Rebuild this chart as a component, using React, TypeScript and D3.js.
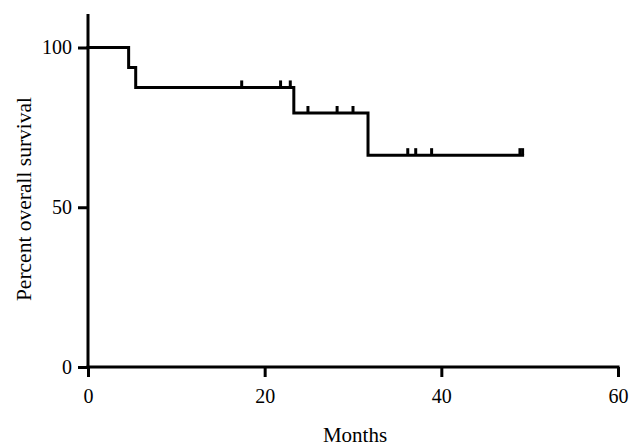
import React, { useEffect, useRef } from "react";
import * as d3 from "d3";

// Kaplan-Meier steps (months, percent survival)
const stepMonths = [0, 4.6, 5.4, 23.3, 31.7, 49.2];
const stepSurvival = [100, 93.75, 87.5, 79.5, 66.3, 66.3];
// censored observations (months)
const censorMonths = [17.4, 21.8, 22.9, 24.9, 28.2, 30.0, 36.2, 37.1, 38.9, 48.9, 49.2];
const xTicks = [0, 20, 40, 60];
const yTicks = [0, 50, 100];

const font = "'Liberation Serif', 'Times New Roman', serif";

function App() {
  const ref = useRef<SVGSVGElement | null>(null);

  useEffect(() => {
    if (!ref.current) return;
    const svg = d3.select(ref.current);
    svg.selectAll("*").remove();

    const x = d3.scaleLinear().domain([0, 60]).range([88, 618]);
    const y = d3.scaleLinear().domain([0, 100]).range([367, 47.5]);

    const steps = stepMonths.map((m, i) => ({ m, s: stepSurvival[i] }));

    // survival at a given time
    const survivalAt = (t: number) => {
      let s = stepSurvival[0];
      stepMonths.forEach((m, i) => {
        if (m <= t) s = stepSurvival[i];
      });
      return s;
    };

    // y axis
    const yAxis = svg
      .append("g")
      .attr("transform", `translate(${x(0)},0)`)
      .call(d3.axisLeft(y).tickValues(yTicks).tickSize(10).tickSizeOuter(0).tickPadding(6));
    yAxis.select(".domain").remove();
    yAxis.selectAll("line").attr("stroke", "#000").attr("stroke-width", 3);
    yAxis
      .selectAll("text")
      .attr("font-family", font)
      .attr("font-size", 20)
      .attr("fill", "#000");
    svg
      .append("line")
      .attr("x1", x(0))
      .attr("x2", x(0))
      .attr("y1", 14)
      .attr("y2", y(0))
      .attr("stroke", "#000")
      .attr("stroke-width", 3);

    // x axis
    const xAxis = svg
      .append("g")
      .attr("transform", `translate(0,${y(0)})`)
      .call(d3.axisBottom(x).tickValues(xTicks).tickSize(10).tickSizeOuter(0).tickPadding(12));
    xAxis.select(".domain").attr("stroke", "#000").attr("stroke-width", 3).attr("d", `M${x(0) - 1.5},0H${x(60) + 1.5}`);
    xAxis.selectAll("line").attr("stroke", "#000").attr("stroke-width", 3);
    xAxis
      .selectAll("text")
      .attr("font-family", font)
      .attr("font-size", 20)
      .attr("fill", "#000");

    // survival curve
    const line = d3
      .line<{ m: number; s: number }>()
      .x((d) => x(d.m))
      .y((d) => y(d.s))
      .curve(d3.curveStepAfter);
    svg
      .append("path")
      .datum(steps)
      .attr("d", line)
      .attr("fill", "none")
      .attr("stroke", "#000")
      .attr("stroke-width", 3)
      .attr("stroke-linecap", "square");

    // censor marks
    svg
      .selectAll("line.censor")
      .data(censorMonths)
      .enter()
      .append("line")
      .attr("class", "censor")
      .attr("x1", (d) => x(d))
      .attr("x2", (d) => x(d))
      .attr("y1", (d) => y(survivalAt(d)))
      .attr("y2", (d) => y(survivalAt(d)) - 7)
      .attr("stroke", "#000")
      .attr("stroke-width", 3);

    // axis titles
    svg
      .append("text")
      .attr("x", 355)
      .attr("y", 442)
      .attr("text-anchor", "middle")
      .attr("font-family", font)
      .attr("font-size", 21)
      .text("Months");
    svg
      .append("text")
      .attr("transform", "translate(31,199) rotate(-90)")
      .attr("text-anchor", "middle")
      .attr("font-family", font)
      .attr("font-size", 21.5)
      .text("Percent overall survival");
  }, []);

  return (
    <svg
      ref={ref}
      width={640}
      height={448}
      style={{ position: "absolute", left: 0, top: 0, background: "#fff" }}
    />
  );
}

export default App;
